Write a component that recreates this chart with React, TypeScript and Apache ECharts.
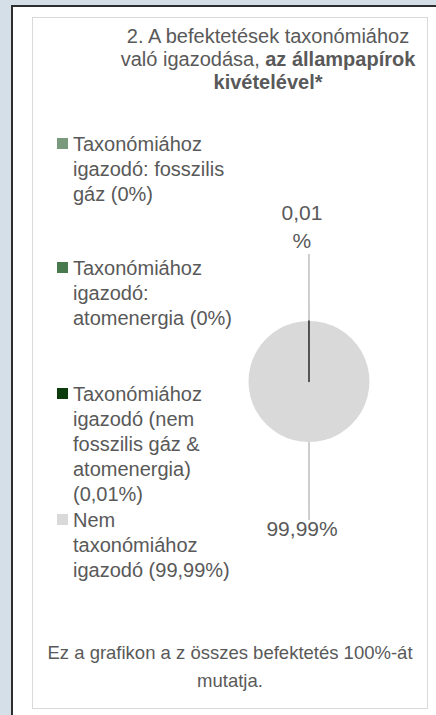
import React, { useEffect, useRef } from 'react';
import * as echarts from 'echarts';

// ---- data ----
const categories = [
  'Taxonómiához igazodó: fosszilis gáz',
  'Taxonómiához igazodó: atomenergia',
  'Taxonómiához igazodó (nem fosszilis gáz & atomenergia)',
  'Nem taxonómiához igazodó',
];
const values = [0, 0, 0.01, 99.99];
const colors = ['#7a9a7e', '#497a4d', '#0c3b0c', '#d9d9d9'];
const legendTemplates = [
  'Taxonómiához\nigazodó: fosszilis\ngáz ({p})',
  'Taxonómiához\nigazodó:\natomenergia ({p})',
  'Taxonómiához\nigazodó (nem\nfosszilis gáz &\natomenergia)\n({p})',
  'Nem\ntaxonómiához\nigazodó ({p})',
];
const drawOrder = [3, 0, 1, 2];
const titleText =
  '2. A befektetések taxonómiához\nvaló igazodása, {b|az állampapírok}\n{b|kivételével*}';
const footnoteText = 'Ez a grafikon a z összes befektetés 100%-át\nmutatja.';

const FONT = '"Liberation Sans", Arial, sans-serif';
const TEXT = '#595959';
const fmt = (v: number) => String(v).replace('.', ',');

export default function App() {
  const ref = useRef<HTMLDivElement>(null);

  useEffect(() => {
    if (!ref.current) return;
    const chart = echarts.init(ref.current, undefined, { renderer: 'svg' });

    const LH = 25;
    const IH = 11;
    const iconTops = [137, 261, 387, 513];

    const legends = categories.map((name, i) => {
      const text = legendTemplates[i].replace('{p}', fmt(values[i]) + '%');
      const n = text.split('\n').length;
      // leading blank lines keep the first text line level with the marker
      const padded = '\n'.repeat(n - 1) + text;
      return {
        data: [name],
        orient: 'vertical',
        left: 57,
        top: iconTops[i] - ((2 * n - 1) * LH) / 2 + IH / 2 + 1,
        padding: 0,
        itemWidth: 11,
        itemHeight: IH,
        icon: 'rect',
        selectedMode: false,
        itemStyle: { borderWidth: 0 },
        formatter: () => padded,
        textStyle: {
          fontFamily: FONT,
          fontSize: 20,
          lineHeight: LH,
          color: TEXT,
        },
      };
    });

    const pieData = drawOrder.map((i) => {
      const v = values[i];
      const show = v > 0;
      const small = v > 0 && v < 1;
      return {
        name: categories[i],
        value: v,
        itemStyle: small
          ? { color: colors[i], borderColor: '#2b2b2b', borderWidth: 1.5 }
          : { color: colors[i], borderWidth: 0 },
        label: {
          show,
          formatter: small ? `${fmt(v)}\n%` : `${fmt(v)}%`,
        },
        labelLine: {
          show,
          length: small ? 67 : 78,
          length2: 1,
        },
      };
    });

    chart.setOption({
      animation: false,
      title: [
        {
          text: titleText,
          left: 268,
          top: 24,
          textAlign: 'center',
          padding: 0,
          textStyle: {
            fontFamily: FONT,
            fontSize: 20,
            fontWeight: 'normal',
            lineHeight: 23,
            color: TEXT,
            rich: {
              b: { fontFamily: FONT, fontSize: 20, fontWeight: 'bold', lineHeight: 23, color: TEXT },
            },
          },
        },
        {
          text: footnoteText,
          left: 230,
          top: 638,
          textAlign: 'center',
          padding: 0,
          textStyle: {
            fontFamily: FONT,
            fontSize: 18.5,
            fontWeight: 'normal',
            lineHeight: 28,
            color: TEXT,
          },
        },
      ],
      legend: legends,
      series: [
        {
          type: 'pie',
          center: [309, 381.5],
          radius: 60.5,
          startAngle: 90,
          clockwise: true,
          silent: true,
          avoidLabelOverlap: false,
          emphasis: { disabled: true },
          label: {
            position: 'outside',
            fontFamily: FONT,
            fontSize: 21,
            lineHeight: 28,
            color: TEXT,
          },
          labelLine: {
            lineStyle: { color: '#bfbfbf', width: 1.5 },
          },
          labelLayout: (p: any) => {
            const pts = p.labelLinePoints;
            if (!pts) return {};
            const end = pts[1];
            const below = end[1] > pts[0][1];
            return {
              x: end[0] - 7,
              y: below ? end[1] - 6 : end[1],
              align: 'center',
              verticalAlign: below ? 'top' : 'bottom',
              labelLinePoints: [pts[0], pts[1]],
            };
          },
          data: pieData,
        },
      ],
    });

    return () => chart.dispose();
  }, []);

  return (
    <div
      style={{
        position: 'fixed',
        left: 0,
        top: 0,
        width: 436,
        height: 715,
        background: '#d5dfe7',
        overflow: 'hidden',
      }}
    >
      <div
        style={{
          position: 'absolute',
          left: 11.3,
          top: 5.3,
          width: 600,
          height: 900,
          border: '2px solid #2e2e2e',
          background: '#ffffff',
        }}
      />
      <div
        style={{
          position: 'absolute',
          left: 32,
          top: 16.6,
          width: 396.3,
          height: 692.4,
          boxSizing: 'border-box',
          border: '1.5px solid #d9d9d9',
          background: '#ffffff',
        }}
      />
      <div ref={ref} style={{ position: 'absolute', left: 0, top: 0, width: 436, height: 715 }} />
    </div>
  );
}
